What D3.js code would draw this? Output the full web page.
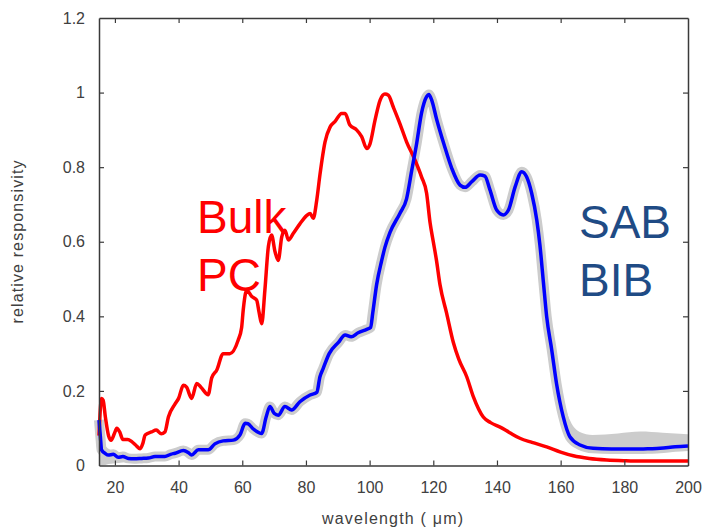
<!DOCTYPE html>
<html>
<head>
<meta charset="utf-8">
<script src="https://cdn.jsdelivr.net/npm/d3@7"></script>
<style>
    body { margin: 0; background: #ffffff; }
    svg { display: block; font-family: "Liberation Sans", Arial, sans-serif; }
</style>
</head>
<body>
<div id="chart"></div>
<script>
// Bulk PC (red) - wavelength in um, relative responsivity
var bulkWl = [15, 15.8, 16.3, 17, 18, 18.8, 19.8, 20.6, 21.5, 22.5, 24, 25.3, 26.5, 27.9, 28.8, 29.5,
    31.5, 33, 34.5, 35.7, 36.8, 38.9, 40, 41.5, 42.5, 44.1, 45.7, 47, 49.3, 50.4, 52, 54, 56.1,
    58.7, 59.8, 60.3, 61.4, 63, 64.5, 65.3, 66.1, 67.1, 68.2, 69.2, 70.3, 71.3, 72.4, 73.4, 74.5,
    76, 78.1, 80.2, 81.3, 82.3, 83.4, 84.4, 86, 87.6, 89.1, 91.2, 92.3, 93.8, 95.9, 97.5, 99.1,
    100.1, 101.7, 103.3, 104.8, 105.9, 107.4, 109.5, 111.6, 114.2, 116.3, 117.9, 119, 120, 121,
    122.1, 124.2, 126.3, 128, 130.5, 132.6, 135.7, 138, 141, 144, 147.2, 151, 155.6, 160, 164,
    169, 174.5, 180, 185, 190, 200];
var bulkResp = [0.08, 0.18, 0.175, 0.13, 0.08, 0.068, 0.085, 0.10, 0.09, 0.07, 0.07, 0.064, 0.055,
    0.045, 0.06, 0.082, 0.09, 0.095, 0.085, 0.09, 0.13, 0.165, 0.18, 0.215, 0.21, 0.18, 0.22, 0.21,
    0.19, 0.235, 0.256, 0.30, 0.30, 0.336, 0.37, 0.417, 0.47, 0.453, 0.444, 0.41, 0.38, 0.47,
    0.587, 0.618, 0.573, 0.55, 0.613, 0.631, 0.605, 0.622, 0.648, 0.67, 0.676, 0.663, 0.712,
    0.78, 0.868, 0.908, 0.922, 0.944, 0.944, 0.913, 0.90, 0.882, 0.85, 0.862, 0.926, 0.98,
    0.996, 0.993, 0.962, 0.917, 0.868, 0.82, 0.774, 0.73, 0.65, 0.60, 0.55, 0.485, 0.408, 0.33,
    0.285, 0.238, 0.184, 0.13, 0.115, 0.103, 0.088, 0.073, 0.062, 0.05, 0.036, 0.026, 0.019,
    0.015, 0.013, 0.012, 0.012, 0.012];

// SAB BIB (blue)
var bibWl = [15, 15.5, 15.8, 17, 17.9, 19.5, 21, 22.5, 24.2, 26, 28.4, 30.5, 32.6, 35.7, 37.5,
    38.9, 41.5, 43, 44.1, 46.2, 49.3, 51.4, 54, 57.2, 59.3, 60.9, 61.8, 63.2, 66.1, 67.5, 68.7,
    70, 71.3, 73.4, 75.5, 78.1, 81.3, 83.4, 84.4, 85.4, 87.3, 90.2, 92.3, 94.2, 96.4, 99.1,
    100.3, 101, 102.2, 103.8, 104.8, 106.4, 109.5, 111.6, 113.2, 114.8, 116.3, 117.9, 118.6,
    119.5, 121, 123.4, 125.8, 128.4, 130, 132.1, 134.7, 136.2, 137.8, 139.9, 142, 143.6, 145.7,
    147.8, 149.3, 150.9, 152.5, 153.5, 154.6, 155.6, 157.2, 158.7, 160.8, 162.9, 166.1, 170.2,
    176, 182.8, 188, 191.2, 196, 200];
var bibResp = [0.122, 0.07, 0.042, 0.032, 0.028, 0.03, 0.022, 0.024, 0.019, 0.018, 0.019, 0.02,
    0.024, 0.024, 0.03, 0.033, 0.04, 0.035, 0.028, 0.042, 0.042, 0.058, 0.066, 0.068, 0.082,
    0.113, 0.112, 0.10, 0.086, 0.13, 0.158, 0.14, 0.135, 0.158, 0.149, 0.171, 0.189, 0.196,
    0.238, 0.26, 0.30, 0.33, 0.35, 0.345, 0.356, 0.365, 0.37, 0.41, 0.485, 0.55, 0.585, 0.625,
    0.676, 0.715, 0.79, 0.865, 0.945, 0.989, 0.995, 0.98, 0.93, 0.86, 0.797, 0.752, 0.746, 0.761,
    0.779, 0.776, 0.739, 0.685, 0.672, 0.685, 0.747, 0.788, 0.774, 0.73, 0.658, 0.59, 0.49, 0.40,
    0.31, 0.22, 0.131, 0.077, 0.055, 0.046, 0.044, 0.044, 0.045, 0.046, 0.05, 0.052];

// grey uncertainty band of the BIB curve where it is wider than the halo
var bandStartWl = [15, 16, 18, 21, 25, 29];
var bandStartHi = [0.15, 0.07, 0.045, 0.035, 0.03, 0.03];
var bandStartLo = [0.0, 0.0, 0.004, 0.007, 0.01, 0.012];
var bandTailWl = [156, 158, 160, 163, 166, 170, 178, 185, 192, 200];
var bandTailHi = [0.40, 0.29, 0.20, 0.12, 0.09, 0.082, 0.086, 0.091, 0.088, 0.084];
var bandTailLo = [0.33, 0.2, 0.12, 0.065, 0.042, 0.036, 0.034, 0.034, 0.038, 0.042];

// axis ticks
var xTicks = [20, 40, 60, 80, 100, 120, 140, 160, 180, 200];
var yTicks = [0, 0.2, 0.4, 0.6, 0.8, 1, 1.2];

function init() {
    var w = 704;
    var h = 529;
    var left = 99, right = 688, top = 18, bottom = 465.5;

    var svg = d3.select("#chart")
        .append("svg")
        .attr("width", w)
        .attr("height", h);

    svg.append("rect")
        .attr("width", w)
        .attr("height", h)
        .attr("fill", "#ffffff");

    var xScale = d3.scaleLinear()
        .domain([15, 200])
        .range([left, right]);

    var yScale = d3.scaleLinear()
        .domain([0, 1.2])
        .range([bottom, top]);

    var bulk = bulkWl.map((d, i) => ({ x: d, y: bulkResp[i] }));
    var bib = bibWl.map((d, i) => ({ x: d, y: bibResp[i] }));
    var bandStart = bandStartWl.map((d, i) => ({ x: d, lo: bandStartLo[i], hi: bandStartHi[i] }));
    var bandTail = bandTailWl.map((d, i) => ({ x: d, lo: bandTailLo[i], hi: bandTailHi[i] }));

    var line = d3.line()
        .x(d => xScale(d.x))
        .y(d => yScale(d.y))
        .curve(d3.curveMonotoneX);

    var band = d3.area()
        .x(d => xScale(d.x))
        .y0(d => yScale(d.lo))
        .y1(d => yScale(d.hi))
        .curve(d3.curveMonotoneX);

    var plot = svg.append("g");

    // grey band around the BIB curve
    [bandStart, bandTail].forEach(function (b) {
        plot.append("path")
            .datum(b)
            .attr("d", band)
            .attr("fill", "#cccccc");
    });

    plot.append("path")
        .datum(bib)
        .attr("d", line)
        .attr("fill", "none")
        .attr("stroke", "#cccccc")
        .attr("stroke-width", 10)
        .attr("stroke-linejoin", "round");

    // Bulk PC curve
    plot.append("path")
        .datum(bulk)
        .attr("d", line)
        .attr("fill", "none")
        .attr("stroke", "#ff0000")
        .attr("stroke-width", 3.5)
        .attr("stroke-linejoin", "round");

    // SAB BIB curve
    plot.append("path")
        .datum(bib)
        .attr("d", line)
        .attr("fill", "none")
        .attr("stroke", "#0000ff")
        .attr("stroke-width", 3.5)
        .attr("stroke-linejoin", "round");

    // frame with inward ticks on all four sides
    var axisColor = "#3a3a3a";
    var axes = [
        { a: d3.axisBottom(xScale).tickValues(xTicks).tickFormat(d3.format("d")), t: "translate(0," + bottom + ")" },
        { a: d3.axisTop(xScale).tickValues(xTicks).tickFormat(""), t: "translate(0," + top + ")" },
        { a: d3.axisLeft(yScale).tickValues(yTicks).tickFormat(d => d === 0 ? "0" : d3.format("")(d)), t: "translate(" + left + ",0)" },
        { a: d3.axisRight(yScale).tickValues(yTicks).tickFormat(""), t: "translate(" + right + ",0)" }
    ];

    axes.forEach(function (ax, i) {
        var g = svg.append("g")
            .attr("transform", ax.t)
            .call(ax.a.tickSizeInner(-5).tickSizeOuter(0).tickPadding(i === 0 ? 16 : 14));
        g.select(".domain").attr("stroke", axisColor).attr("stroke-width", 1.5);
        g.selectAll(".tick line").attr("stroke", axisColor).attr("stroke-width", 1.2);
        g.selectAll(".tick text")
            .attr("fill", "#404040")
            .style("font-size", "16px")
            .style("font-family", "Liberation Sans, Arial, sans-serif");
    });

    // hide the tick marks that sit on the frame corners
    svg.selectAll(".tick").filter(d => d === 0 || d === 1.2 || d === 200)
        .select("line").attr("stroke-opacity", 0);

    // axis titles
    svg.append("text")
        .attr("x", 392.5)
        .attr("y", 524)
        .attr("text-anchor", "middle")
        .attr("fill", "#404040")
        .style("font-size", "16px")
        .attr("textLength", 141)
        .attr("lengthAdjust", "spacing")
        .text("wavelength ( μm)");

    svg.append("text")
        .attr("transform", "rotate(-90)")
        .attr("x", -242)
        .attr("y", 23)
        .attr("text-anchor", "middle")
        .attr("fill", "#404040")
        .style("font-size", "16px")
        .attr("textLength", 163)
        .attr("lengthAdjust", "spacing")
        .text("relative responsivity");

    // curve labels
    var labels = [
        { lines: ["Bulk", "PC"], x: 197, y: 233, color: "#ff0000" },
        { lines: ["SAB", "BIB"], x: 579, y: 238, color: "#1f4b85" }
    ];
    labels.forEach(function (lb) {
        lb.lines.forEach(function (t, i) {
            svg.append("text")
                .attr("x", lb.x)
                .attr("y", lb.y + i * 58)
                .attr("fill", lb.color)
                .style("font-size", "46px")
                .text(t);
        });
    });
}

window.onload = init;
</script>
</body>
</html>
